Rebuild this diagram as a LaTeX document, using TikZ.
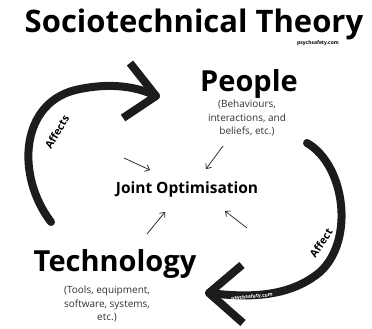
\documentclass[tikz,border=0pt]{standalone}
\usepackage{fontspec}
\setmainfont{Open Sans}
\usetikzlibrary{arrows.meta}
\definecolor{ink}{HTML}{1C1C1C}
\definecolor{sub}{HTML}{333333}
\tikzset{
  bigcurve/.style={draw=ink, line width=8pt, line cap=round},
  bighead/.style={draw=ink, line width=8pt, line cap=butt, line join=round},
  thinarrow/.style={draw=ink, line width=0.7pt, -{Straight Barb[length=4pt,width=7pt]}},
  heading/.style={font=\bfseries\fontsize{29}{31}\selectfont, anchor=base, inner sep=0pt},
  subtext/.style={font=\fontsize{10}{13.5}\selectfont, text=sub, align=center, anchor=north, inner sep=0pt},
  curvelabel/.style={font=\bfseries\fontsize{10.5}{12}\selectfont, inner sep=0pt},
}
\begin{document}
\begin{tikzpicture}[x=1pt,y=-1pt]
\useasboundingbox (0,0) rectangle (372,329);
\fill[white] (0,0) rectangle (372,329);
% title
\node[font=\bfseries\fontsize{31}{33}\selectfont, anchor=base, inner sep=0pt] (title) at (194,33) {Sociotechnical Theory};
\node[font=\bfseries\fontsize{5}{6}\selectfont, inner sep=0pt] (wm1) at (318,43) {psychsafety.com};
% main nodes
\node[heading] (people) at (249,91) {People};
\node[subtext] (peoplesub) at (247,100) {(Behaviours,\\interactions, and\\beliefs, etc.)};
\node[font=\bfseries\fontsize{15.5}{17}\selectfont, inner sep=0pt] (joint) at (187,189) {Joint Optimisation};
\node[heading] (tech) at (115,271) {Technology};
\node[subtext] (techsub) at (107,286) {(Tools, equipment,\\software, systems,\\etc.)};
% big left arrow (Technology affects People)
\coordinate (lstart) at (51,222);
\coordinate (lmid) at (80,89);
\coordinate (ltip) at (156,96);
\draw[bigcurve] (lstart) .. controls (15,175) and (20,100) .. (lmid)
  .. controls (115,82) and (140,88) .. (ltip);
\draw[bighead] (130,63) -- (ltip) -- (123,118);
\node[curvelabel, rotate=60] (affects) at (57,132) {Affects};
% big right arrow (People affect Technology)
\coordinate (rstart) at (307,143);
\coordinate (rmid) at (320,272);
\coordinate (rtip) at (209,293);
\draw[bigcurve] (rstart) .. controls (345,165) and (355,240) .. (rmid)
  .. controls (290,297) and (250,298) .. (rtip);
\draw[bighead] (242,265) -- (rtip) -- (243,323);
\node[curvelabel, rotate=56] (affect) at (321,243) {Affect};
\node[font=\bfseries\fontsize{5}{6}\selectfont, text=white, inner sep=0pt, rotate=5] (wm2) at (252,297) {psychsafety.com};
% thin arrows into joint optimisation
\coordinate (a1) at (124,158);
\coordinate (a1e) at (150,170);
\coordinate (a2) at (223,146);
\coordinate (a2e) at (206,169);
\coordinate (a3) at (147,234);
\coordinate (a3e) at (165,212);
\coordinate (a4) at (247,228);
\coordinate (a4e) at (225,211);
\draw[thinarrow] (a1) -- (a1e);
\draw[thinarrow] (a2) -- (a2e);
\draw[thinarrow] (a3) -- (a3e);
\draw[thinarrow] (a4) -- (a4e);
\end{tikzpicture}
\end{document}
